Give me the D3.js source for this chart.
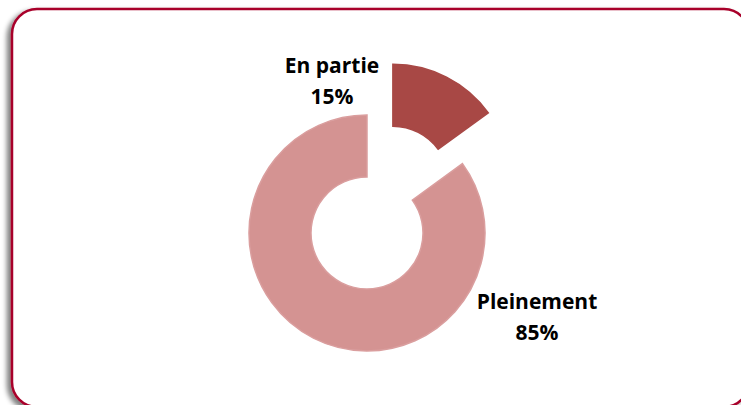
<!DOCTYPE html>
<html>
  <head>
    <meta charset="utf-8">
    <title>Pleinement / En partie</title>
    <script src="https://cdn.jsdelivr.net/npm/d3@7"></script>
    <style>
      html, body { margin: 0; padding: 0; background: #fff; }
      #chart { display: block; }
      .label { font-family: "Open Sans", Lato, sans-serif; font-weight: bold; font-size: 21px; fill: #000; }
    </style>
  </head>
  <body>
    <svg id="chart" width="741" height="405">
      <defs>
        <filter id="shadow" x="-5%" y="-5%" width="110%" height="115%">
          <feGaussianBlur in="SourceAlpha" stdDeviation="2.5"></feGaussianBlur>
          <feOffset dx="-4" dy="3" result="blur"></feOffset>
          <feComponentTransfer><feFuncA type="linear" slope="0.5"></feFuncA></feComponentTransfer>
          <feMerge><feMergeNode></feMergeNode><feMergeNode in="SourceGraphic"></feMergeNode></feMerge>
        </filter>
      </defs>
      <g id="frameGroup"></g>
      <g id="chartGroup"></g>
      <g id="labelGroup"></g>
    </svg>
    <script>
      // data
      var categories = ["En partie", "Pleinement"];
      var values = [15, 85];
      var colours = ["#A84845", "#D49392"];
      var strokes = ["#A84845", "#DA9E9E"];

      // layout
      var cx = 367, cy = 233;
      var outerR = 118, innerR = 56;
      var explode = 57;

      // frame
      d3.select("#frameGroup").append("rect")
        .attr("x", 12).attr("y", 9)
        .attr("width", 737).attr("height", 398)
        .attr("rx", 25).attr("ry", 25)
        .attr("fill", "#fff")
        .attr("stroke", "#A8002A")
        .attr("stroke-width", 2.5)
        .attr("filter", "url(#shadow)");

      var pie = d3.pie().sort(null).value(function(d) { return d; });
      var arcs = pie(values);
      var arc = d3.arc().innerRadius(innerR).outerRadius(outerR);

      var chartGroup = d3.select("#chartGroup")
        .attr("transform", "translate(" + cx + "," + cy + ")");

      chartGroup.selectAll(".slice")
          .data(arcs)
        .enter().append("path")
          .attr("class", "slice")
          .attr("fill", function(d, i) { return colours[i]; })
          .attr("stroke", function(d, i) { return strokes[i]; })
          .attr("stroke-width", 1.5)
          .attr("transform", function(d, i) {
            if (i !== 0) return null;
            var a = (d.startAngle + d.endAngle) / 2;
            return "translate(" + (Math.sin(a) * explode) + "," + (-Math.cos(a) * explode) + ")";
          })
          .attr("d", arc);

      // labels
      var labelPos = [[332, 73], [537, 309]];
      var labels = d3.select("#labelGroup").selectAll(".label")
          .data(arcs)
        .enter().append("text")
          .attr("class", "label")
          .attr("text-anchor", "middle")
          .attr("x", function(d, i) { return labelPos[i][0]; })
          .attr("y", function(d, i) { return labelPos[i][1]; });
      labels.append("tspan")
        .attr("x", function(d, i) { return labelPos[i][0]; })
        .text(function(d, i) { return categories[i]; });
      labels.append("tspan")
        .attr("x", function(d, i) { return labelPos[i][0]; })
        .attr("dy", 31)
        .text(function(d) { return d.value + "%"; });
    </script>
  </body>
</html>
